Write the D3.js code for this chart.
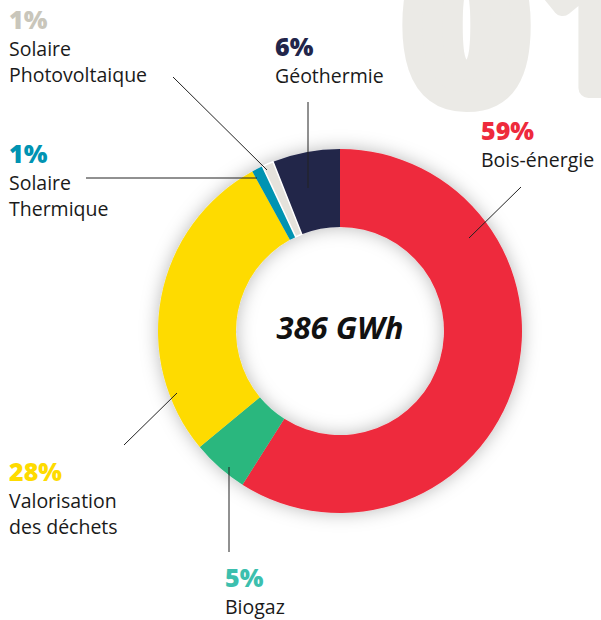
<!DOCTYPE html>
<html>
<head>
<meta charset="utf-8">
<script src="https://cdn.jsdelivr.net/npm/d3@7"></script>
<style>
  body { margin: 0; background: #fff; }
  svg { display: block; }
</style>
</head>
<body>
<div id="chart"></div>
<script>
// data
var categories = ["Bois-énergie", "Biogaz", "Valorisation des déchets", "Solaire Thermique", "Solaire Photovoltaique", "Géothermie"];
var values = [59, 5, 28, 1, 1, 6];
var sliceColors = ["#ee2a3c", "#2bb77e", "#fedb00", "#0093b2", "#e5e2dc", "#22254a"];
var pctColors = ["#ee2a3c", "#3cbfae", "#fedb00", "#0093b2", "#c9c6bb", "#22254a"];
var labelLines = [["Bois-énergie"], ["Biogaz"], ["Valorisation", "des déchets"], ["Solaire", "Thermique"], ["Solaire", "Photovoltaique"], ["Géothermie"]];
var total = "386 GWh";

var width = 601, height = 620;
var cx = 340, cy = 331, outerR = 182, innerR = 104;

var svg = d3.select("#chart").append("svg")
    .attr("width", width)
    .attr("height", height);

var defs = svg.append("defs");
var filt = defs.append("filter").attr("id", "shadow")
    .attr("x", "-30%").attr("y", "-30%").attr("width", "160%").attr("height", "160%");
filt.append("feDropShadow")
    .attr("dx", 0).attr("dy", 0)
    .attr("stdDeviation", 9)
    .attr("flood-color", "#000")
    .attr("flood-opacity", 0.28);

// big background number, thickened with a stroke
var bg = svg.append("g")
    .attr("font-family", "Open Sans, sans-serif")
    .attr("font-weight", 800)
    .attr("font-size", 210)
    .attr("fill", "#ebeae6")
    .attr("stroke", "#ebeae6")
    .attr("stroke-width", 20)
    .attr("stroke-linejoin", "round");
bg.append("text")
    .attr("x", 405).attr("y", 100)
    .text("0");
bg.append("text")
    .attr("x", 533).attr("y", 88)
    .text("1");

var pie = d3.pie().sort(null).value(function(d){ return d; });
var arcs = pie(values);
var arc = d3.arc().innerRadius(innerR).outerRadius(outerR);

var ring = svg.append("g")
    .attr("transform", "translate(" + cx + "," + cy + ")");

ring.append("g").attr("filter", "url(#shadow)")
  .selectAll("path")
    .data(arcs)
    .enter().append("path")
    .attr("d", arc)
    .attr("fill", function(d, i){ return sliceColors[i]; });

// thin white separators round the light slice
ring.append("path")
    .attr("d", arc(arcs[4]))
    .attr("fill", sliceColors[4])
    .attr("stroke", "#fff")
    .attr("stroke-width", 1.5);

ring.append("text")
    .attr("x", 0).attr("y", 8)
    .attr("text-anchor", "middle")
    .attr("font-family", "Open Sans, sans-serif")
    .attr("font-weight", 700)
    .attr("font-style", "italic")
    .attr("font-size", 31)
    .attr("fill", "#111")
    .text(total);

// leader lines
var leaders = [
    [[469, 238], [521, 187]],
    [[229, 467], [229, 552]],
    [[177, 393], [124, 445]],
    [[257, 178], [86, 178]],
    [[267, 170], [173, 77]],
    [[308, 188], [308, 102]]
];
svg.append("g").selectAll("path")
    .data(leaders)
    .enter().append("path")
    .attr("d", d3.line())
    .attr("fill", "none")
    .attr("stroke", "#222")
    .attr("stroke-width", 1);

// labels
var labelPos = [[481, 140], [225, 587], [9, 481], [9, 163], [9, 29], [275, 56]];
var lab = svg.append("g").selectAll("g")
    .data(arcs)
    .enter().append("g")
    .attr("transform", function(d, i){ return "translate(" + labelPos[i][0] + "," + labelPos[i][1] + ")"; });

lab.append("text")
    .attr("font-family", "Open Sans, sans-serif")
    .attr("font-weight", 800)
    .attr("font-size", 25)
    .attr("fill", function(d, i){ return pctColors[i]; })
    .text(function(d){ return d.value + "%"; });

lab.each(function(d, i){
    var g = d3.select(this);
    labelLines[i].forEach(function(t, k){
        g.append("text")
            .attr("y", 27 + k * 26)
            .attr("font-family", "Open Sans, sans-serif")
            .attr("font-size", 19.5)
            .attr("fill", "#1a1a1a")
            .text(t);
    });
});
</script>
</body>
</html>
